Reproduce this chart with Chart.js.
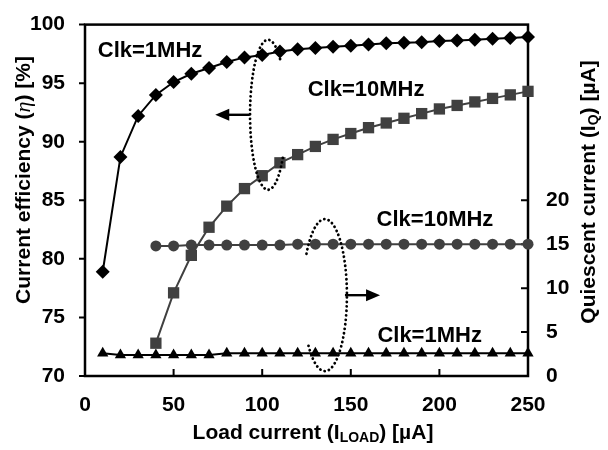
<!DOCTYPE html>
<html>
<head>
<meta charset="utf-8">
<script src="https://cdn.jsdelivr.net/npm/chart.js@4.4.1/dist/chart.umd.min.js"></script>
<style>
  html, body { margin: 0; padding: 0; background: #fff; }
  #wrap { width: 608px; height: 450px; }
</style>
</head>
<body>
<div id="wrap"><canvas id="chart" width="608" height="450"></canvas></div>
<script>
// load current points [uA]
const LOAD_1MHZ = [10, 20, 30, 40, 50, 60, 70, 80, 90, 100, 110, 120, 130, 140, 150, 160, 170, 180, 190, 200, 210, 220, 230, 240, 250];
const LOAD_10MHZ = [40, 50, 60, 70, 80, 90, 100, 110, 120, 130, 140, 150, 160, 170, 180, 190, 200, 210, 220, 230, 240, 250];

// current efficiency [%] (left axis)
const EFF_1MHZ = [78.9, 88.7, 92.2, 94.0, 95.1, 95.8, 96.3, 96.8, 97.2, 97.4, 97.7, 97.9, 98.0, 98.1, 98.2, 98.3, 98.4, 98.45, 98.5, 98.6, 98.65, 98.7, 98.8, 98.85, 98.95];
const EFF_10MHZ = [72.8, 77.1, 80.3, 82.7, 84.5, 86.0, 87.1, 88.2, 88.9, 89.6, 90.2, 90.7, 91.2, 91.6, 92.0, 92.4, 92.8, 93.1, 93.4, 93.7, 94.0, 94.3];

// quiescent current [uA] (right axis)
const IQ_10MHZ = [14.8, 14.8, 14.9, 14.9, 14.9, 14.9, 14.9, 14.9, 15.0, 15.0, 15.0, 15.0, 15.0, 15.0, 15.0, 15.0, 15.0, 15.0, 15.0, 15.0, 15.0, 15.0];
const IQ_1MHZ = [2.6, 2.4, 2.4, 2.4, 2.4, 2.4, 2.4, 2.6, 2.6, 2.6, 2.6, 2.6, 2.6, 2.6, 2.6, 2.6, 2.6, 2.6, 2.6, 2.6, 2.6, 2.6, 2.6, 2.6, 2.6];

// tick labels
const X_TICKS = [0, 50, 100, 150, 200, 250];
const EFF_TICKS = [70, 75, 80, 85, 90, 95, 100];
const IQ_TICKS = [0, 5, 10, 15, 20];

const FONT = "'Liberation Sans', Arial, sans-serif";
const GREY = '#404040';
const TEXT_SIZE = 21;

function toPoints(xs, ys) {
    return xs.map((x, i) => ({ x: x, y: ys[i] }));
}

function setTicks(values) {
    return scale => { scale.ticks = values.map(v => ({ value: v })); };
}

// text with optional subscript / italic pieces, centred on (cx, cy)
function drawRichText(ctx, parts, cx, cy, angle) {
    ctx.save();
    ctx.translate(cx, cy);
    ctx.rotate(angle || 0);
    ctx.textBaseline = 'middle';
    ctx.textAlign = 'left';
    let total = 0;
    parts.forEach(p => {
        ctx.font = p.font;
        p.w = ctx.measureText(p.text).width;
        total += p.w;
    });
    let x = -total / 2;
    parts.forEach(p => {
        ctx.font = p.font;
        ctx.fillText(p.text, x, p.dy || 0);
        x += p.w;
    });
    ctx.restore();
}

function dottedArc(ctx, cx, cy, rx, ry, a0, a1) {
    ctx.save();
    ctx.setLineDash([0.1, 4.4]);
    ctx.lineCap = 'round';
    ctx.lineWidth = 2.8;
    ctx.strokeStyle = '#000';
    ctx.beginPath();
    ctx.ellipse(cx, cy, rx, ry, 0, a0 * Math.PI / 180, a1 * Math.PI / 180);
    ctx.stroke();
    ctx.restore();
}

function arrow(ctx, x0, y, x1) {
    const dir = Math.sign(x1 - x0);
    ctx.save();
    ctx.strokeStyle = '#000';
    ctx.fillStyle = '#000';
    ctx.lineWidth = 2.4;
    ctx.beginPath();
    ctx.moveTo(x0, y);
    ctx.lineTo(x1 - dir * 8, y);
    ctx.stroke();
    ctx.beginPath();
    ctx.moveTo(x1, y);
    ctx.lineTo(x1 - dir * 14, y - 6);
    ctx.lineTo(x1 - dir * 14, y + 6);
    ctx.closePath();
    ctx.fill();
    ctx.restore();
}

const frame = {
    id: 'frame',
    beforeDatasetsDraw(chart) {
        const { ctx, chartArea: a, scales } = chart;
        ctx.save();
        ctx.strokeStyle = '#000';
        ctx.lineWidth = 2.5;
        ctx.strokeRect(a.left, a.top, a.right - a.left, a.bottom - a.top);
        ctx.lineWidth = 2;
        ctx.beginPath();
        // left ticks outside, bottom + right ticks inside
        EFF_TICKS.forEach(v => {
            const y = scales.y.getPixelForValue(v);
            ctx.moveTo(a.left - 6, y);
            ctx.lineTo(a.left, y);
        });
        X_TICKS.forEach(v => {
            const x = scales.x.getPixelForValue(v);
            ctx.moveTo(x, a.bottom);
            ctx.lineTo(x, a.bottom - 7);
        });
        IQ_TICKS.forEach(v => {
            const y = scales.y1.getPixelForValue(v);
            ctx.moveTo(a.right, y);
            ctx.lineTo(a.right - 7, y);
        });
        ctx.stroke();
        ctx.restore();
    },
    afterDatasetsDraw(chart) {
        const { ctx, scales } = chart;
        const px = v => scales.x.getPixelForValue(v);
        const py = v => scales.y.getPixelForValue(v);
        const bold = size => 'bold ' + size + 'px ' + FONT;

        ctx.save();
        ctx.fillStyle = '#000';

        // axis titles
        drawRichText(ctx, [
            { text: 'Load current (I', font: bold(TEXT_SIZE) },
            { text: 'LOAD', font: bold(14), dy: 5 },
            { text: ') [µA]', font: bold(TEXT_SIZE) }
        ], 313, 433, 0);
        drawRichText(ctx, [
            { text: 'Current efficiency (', font: bold(TEXT_SIZE) },
            { text: 'η', font: "italic 22px 'Liberation Serif', serif" },
            { text: ') [%]', font: bold(TEXT_SIZE) }
        ], 24, 180, -Math.PI / 2);
        drawRichText(ctx, [
            { text: 'Quiescent current (I', font: bold(TEXT_SIZE) },
            { text: 'Q', font: bold(14), dy: 5 },
            { text: ') [µA]', font: bold(TEXT_SIZE) }
        ], 589, 192, -Math.PI / 2);

        // curve labels
        const labelFont = bold(22);
        drawRichText(ctx, [{ text: 'Clk=1MHz', font: labelFont }], px(36.7), py(97.74), 0);
        drawRichText(ctx, [{ text: 'Clk=10MHz', font: labelFont }], px(158.6), py(94.4), 0);
        drawRichText(ctx, [{ text: 'Clk=10MHz', font: labelFont }], px(197.5), py(83.3), 0);
        drawRichText(ctx, [{ text: 'Clk=1MHz', font: labelFont }], px(194.5), py(73.4), 0);

        // grouping ellipses and axis arrows
        dottedArc(ctx, px(103.3), py(92.3), 18, 75, 35, 316);
        arrow(ctx, px(93), py(92.3), px(73.5));
        dottedArc(ctx, px(135.4), py(76.9), 22, 76, 213, 501);
        arrow(ctx, px(146.7), py(76.9), px(166.5));

        ctx.restore();
    }
};

const pointBase = { clip: false, borderWidth: 2, pointBorderWidth: 0 };
const tickFont = { family: FONT, size: TEXT_SIZE, weight: 'bold' };

new Chart(document.getElementById('chart'), {
    type: 'line',
    data: {
        datasets: [
            Object.assign({
                label: 'Efficiency Clk=1MHz',
                data: toPoints(LOAD_1MHZ, EFF_1MHZ),
                yAxisID: 'y',
                borderColor: '#000',
                backgroundColor: '#000',
                pointStyle: 'rectRot',
                pointRadius: 7
            }, pointBase),
            Object.assign({
                label: 'Efficiency Clk=10MHz',
                data: toPoints(LOAD_10MHZ, EFF_10MHZ),
                yAxisID: 'y',
                borderColor: GREY,
                backgroundColor: GREY,
                pointStyle: 'rect',
                pointRadius: 8
            }, pointBase),
            Object.assign({
                label: 'IQ Clk=10MHz',
                data: toPoints(LOAD_10MHZ, IQ_10MHZ),
                yAxisID: 'y1',
                borderColor: GREY,
                backgroundColor: GREY,
                pointStyle: 'circle',
                pointRadius: 5.5
            }, pointBase),
            Object.assign({
                label: 'IQ Clk=1MHz',
                data: toPoints(LOAD_1MHZ, IQ_1MHZ),
                yAxisID: 'y1',
                borderColor: '#000',
                backgroundColor: '#000',
                pointStyle: 'triangle',
                pointRadius: 6.5
            }, pointBase)
        ]
    },
    options: {
        responsive: false,
        devicePixelRatio: 1,
        animation: false,
        layout: { padding: { top: 18, left: 0, right: 0, bottom: 0 } },
        plugins: { legend: { display: false }, tooltip: { enabled: false } },
        scales: {
            x: {
                type: 'linear',
                min: 0,
                max: 250,
                afterBuildTicks: setTicks(X_TICKS),
                afterFit: scale => { scale.height = 74; },
                grid: { display: false },
                border: { display: false },
                ticks: { color: '#000', font: tickFont, padding: 9, maxRotation: 0 }
            },
            y: {
                position: 'left',
                min: 70,
                max: 100,
                afterBuildTicks: setTicks(EFF_TICKS),
                afterFit: scale => { scale.width = 85; },
                grid: { display: false },
                border: { display: false },
                ticks: { color: '#000', font: tickFont, padding: 12 }
            },
            y1: {
                position: 'right',
                min: 0,
                max: 40,
                afterBuildTicks: setTicks(IQ_TICKS),
                afterFit: scale => { scale.width = 80; },
                grid: { display: false },
                border: { display: false },
                ticks: { color: '#000', font: tickFont, padding: 10 }
            }
        }
    },
    plugins: [frame]
});
</script>
</body>
</html>
